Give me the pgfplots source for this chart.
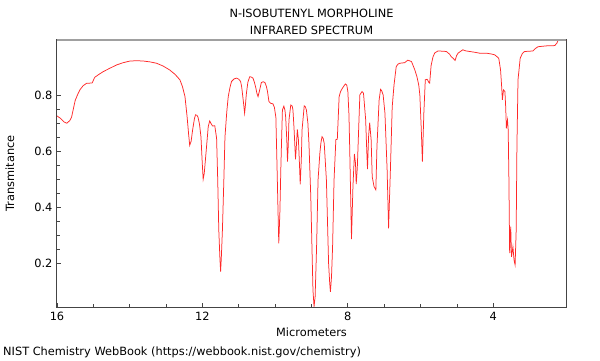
\documentclass[border=0pt]{standalone}
\usepackage{fontspec}
\setmainfont{DejaVu Sans}
\usepackage{pgfplots}
\pgfplotsset{compat=1.18}
\definecolor{spec}{RGB}{255,40,40}
\definecolor{framec}{RGB}{68,68,68}
\definecolor{topframe}{RGB}{160,160,160}
\begin{document}
\begin{tikzpicture}[x=1bp,y=1bp,font=\fontsize{11.4}{13.5}\selectfont]
\path[use as bounding box] (0,0) rectangle (600,360);
\begin{axis}[at={(57bp,53bp)}, anchor=south west, scale only axis,
  width=509bp, height=267bp,
  xmin=2, xmax=16, x dir=reverse, ymin=0.043, ymax=0.996,
  xtick={4,8,12,16}, minor x tick num=3,
  ytick={0.2,0.4,0.6,0.8}, minor y tick num=3,
  tick align=inside, xtick pos=bottom, ytick pos=left,
  major tick length=4.5bp, minor tick length=3bp,
  axis line style={draw=framec, line width=1bp},
  tick style={draw=framec, line width=0.8bp},
  /pgf/number format/assume math mode=true,
  tick label style={font=\fontsize{11.4}{13.5}\selectfont},
  xticklabel style={yshift=-2bp},
  yticklabel style={xshift=-1bp},
]
\addplot[spec, line width=0.75bp] coordinates {
(16.00,0.725) (15.90,0.716) (15.80,0.703) (15.73,0.699) (15.65,0.708) (15.60,0.720)
(15.55,0.750) (15.50,0.780) (15.43,0.802) (15.37,0.818) (15.28,0.833) (15.18,0.842)
(15.10,0.842) (15.03,0.843) (14.98,0.858) (14.96,0.863) (14.85,0.873) (14.73,0.883)
(14.55,0.895) (14.36,0.907) (14.18,0.915) (13.99,0.921) (13.80,0.922) (13.63,0.921)
(13.45,0.918) (13.26,0.913) (13.08,0.903) (12.90,0.889) (12.75,0.873) (12.62,0.854)
(12.55,0.830) (12.48,0.794) (12.42,0.720) (12.38,0.660) (12.35,0.620) (12.31,0.635)
(12.27,0.675) (12.22,0.715) (12.19,0.729) (12.15,0.727) (12.12,0.720) (12.08,0.695)
(12.04,0.650) (12.01,0.570) (11.98,0.499) (11.95,0.520) (11.91,0.580) (11.84,0.687)
(11.80,0.707) (11.76,0.697) (11.72,0.689) (11.66,0.690) (11.61,0.645) (11.58,0.500)
(11.55,0.318) (11.52,0.220) (11.50,0.169) (11.48,0.220) (11.45,0.318) (11.41,0.500)
(11.38,0.650) (11.33,0.740) (11.29,0.794) (11.24,0.828) (11.20,0.848) (11.13,0.857)
(11.06,0.860) (11.00,0.856) (10.95,0.848) (10.92,0.828) (10.90,0.806) (10.86,0.760)
(10.84,0.735) (10.82,0.760) (10.79,0.806) (10.75,0.845) (10.70,0.865) (10.66,0.864)
(10.61,0.860) (10.57,0.845) (10.53,0.824) (10.50,0.805) (10.47,0.794) (10.43,0.815)
(10.38,0.844) (10.33,0.847) (10.28,0.844) (10.24,0.830) (10.21,0.812) (10.17,0.776)
(10.12,0.770) (10.06,0.768) (10.02,0.755) (9.98,0.720) (9.95,0.556) (9.92,0.380)
(9.90,0.270) (9.87,0.380) (9.84,0.556) (9.80,0.746) (9.76,0.760) (9.73,0.745)
(9.71,0.720) (9.68,0.640) (9.66,0.562) (9.64,0.620) (9.62,0.710) (9.57,0.764)
(9.53,0.760) (9.51,0.746) (9.48,0.680) (9.44,0.570) (9.41,0.630) (9.39,0.677)
(9.36,0.640) (9.33,0.550) (9.31,0.481) (9.28,0.570) (9.26,0.675) (9.20,0.761)
(9.17,0.758) (9.14,0.746) (9.10,0.700) (9.07,0.627) (9.02,0.437) (8.99,0.270)
(8.96,0.104) (8.93,0.044) (8.90,0.080) (8.86,0.258) (8.82,0.496) (8.77,0.592)
(8.74,0.630) (8.71,0.651) (8.68,0.645) (8.65,0.627) (8.59,0.496) (8.53,0.199)
(8.50,0.130) (8.48,0.097) (8.45,0.150) (8.42,0.258) (8.38,0.496) (8.33,0.640)
(8.29,0.642) (8.24,0.794) (8.20,0.812) (8.15,0.824) (8.07,0.839) (8.03,0.835)
(8.00,0.812) (7.97,0.730) (7.95,0.615) (7.92,0.420) (7.90,0.285) (7.88,0.380)
(7.86,0.473) (7.82,0.589) (7.79,0.556) (7.77,0.482) (7.74,0.540) (7.72,0.615)
(7.67,0.800) (7.61,0.812) (7.57,0.806) (7.51,0.711) (7.48,0.600) (7.46,0.535)
(7.43,0.651) (7.40,0.701) (7.36,0.640) (7.33,0.508) (7.28,0.473) (7.23,0.461)
(7.20,0.615) (7.14,0.782) (7.10,0.820) (7.07,0.815) (7.03,0.800) (6.98,0.735)
(6.92,0.532) (6.88,0.324) (6.83,0.532) (6.78,0.758) (6.73,0.836) (6.67,0.901)
(6.62,0.910) (6.57,0.913) (6.44,0.915) (6.35,0.924) (6.25,0.919) (6.16,0.890)
(6.10,0.865) (6.05,0.835) (6.02,0.800) (5.98,0.675) (5.95,0.562) (5.91,0.735)
(5.87,0.854) (5.82,0.856) (5.77,0.844) (5.75,0.842) (5.71,0.905) (5.66,0.935)
(5.61,0.950) (5.52,0.957) (5.40,0.956) (5.29,0.955) (5.20,0.945) (5.16,0.937)
(5.10,0.930) (5.05,0.923) (5.01,0.940) (4.97,0.949) (4.84,0.961) (4.75,0.957)
(4.65,0.955) (4.50,0.952) (4.38,0.949) (4.19,0.949) (4.05,0.946) (3.96,0.943)
(3.85,0.931) (3.80,0.889) (3.77,0.830) (3.75,0.782) (3.72,0.818) (3.68,0.812)
(3.66,0.760) (3.64,0.681) (3.61,0.711) (3.59,0.675) (3.57,0.496) (3.55,0.235)
(3.52,0.330) (3.50,0.222) (3.46,0.258) (3.43,0.211) (3.40,0.193) (3.37,0.318)
(3.35,0.615) (3.32,0.854) (3.26,0.931) (3.20,0.948) (3.14,0.955) (3.00,0.956)
(2.91,0.957) (2.85,0.965) (2.77,0.972) (2.54,0.975) (2.31,0.976) (2.25,0.985)
(2.22,0.994) (2.00,0.994)
};
\draw[topframe, line width=2bp] (rel axis cs:0,1) -- (rel axis cs:1,1);
\end{axis}
\node at (311.5,347) {N-ISOBUTENYL MORPHOLINE};
\node at (311.5,330) {INFRARED SPECTRUM};
\node at (311.5,28) {Micrometers};
\node[rotate=90] at (10,186.5) {Transmitance};
\node[anchor=west, inner sep=0pt] at (3,8) {NIST Chemistry WebBook (https://webbook.nist.gov/chemistry)};
\end{tikzpicture}
\end{document}
